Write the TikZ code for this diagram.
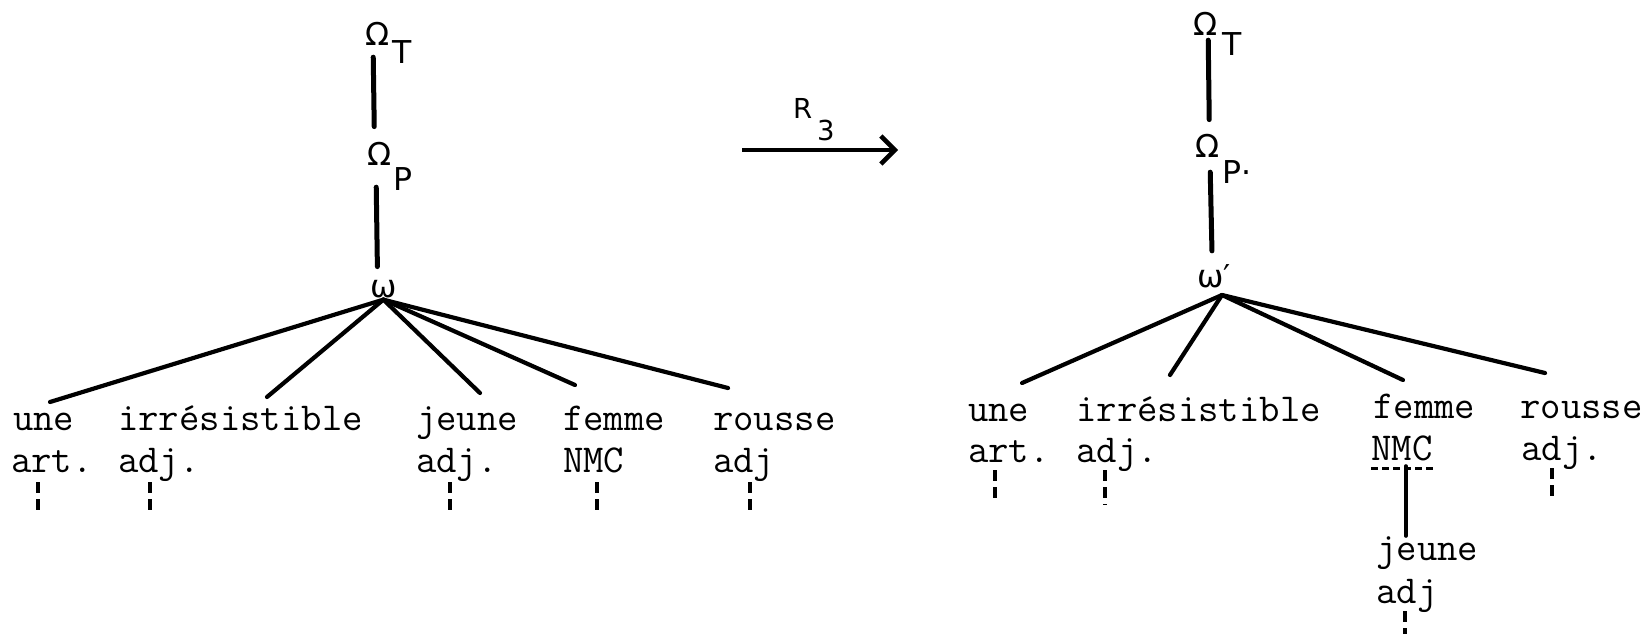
\documentclass[tikz,border=0pt]{standalone}
\usepackage{fontspec}
\newfontfamily\labfont{DejaVu Sans}
\usetikzlibrary{arrows.meta}
\tikzset{
  word/.style={anchor=base west, inner sep=0pt, font=\fontsize{39.6}{40}\selectfont\ttfamily},
  lab/.style={anchor=base west, inner sep=0pt, font=\fontsize{31.5}{32}\selectfont\labfont},
  rulelab/.style={anchor=base west, inner sep=0pt, font=\fontsize{27.5}{28}\selectfont\labfont},
  stem/.style={line width=5pt, line cap=round},
  branch/.style={line width=4.2pt, line cap=round},
  trail/.style={line width=3.6pt, dash pattern=on 11pt off 6pt},
}
\begin{document}
\begin{tikzpicture}[x=1pt,y=-1pt]
  \useasboundingbox (0,0) rectangle (1652,633);
  % left tree
  \node[lab] (lOT) at (365,45) {Ω};
  \node[lab] (lOTs) at (392,63) {T};
  \node[lab] (lOP) at (367,165) {Ω};
  \node[lab] (lOPs) at (393,190) {P};
  \node[lab] (lW) at (370,297) {ω};
  \draw[stem] ([xshift=-4pt,yshift=-12pt]lOT.south) -- ([xshift=-5pt,yshift=15pt]lOP.north);
  \draw[stem] ([xshift=-3pt,yshift=-22pt]lOP.south) -- ([xshift=-6pt,yshift=13pt]lW.north);
  \coordinate (lApex) at ([yshift=-2pt]lW.south);
  \coordinate (lEnd1) at (50,402);
  \coordinate (lEnd2) at (267,397);
  \coordinate (lEnd3) at (480,393);
  \coordinate (lEnd4) at (575,385);
  \coordinate (lEnd5) at (728,388);
  \foreach \e in {1,...,5}
    \draw[branch] (lApex) -- (lEnd\e);
  \node[word] (lUne) at (13,430) {une};
  \node[word] (lIrr) at (118,430) {irrésistible};
  \node[word] (lJeu) at (416,430) {jeune};
  \node[word] (lFem) at (563,430) {femme};
  \node[word] (lRou) at (713,430) {rousse};
  \node[word] (lArt) at (11,472) {art.};
  \node[word] (lAdjA) at (118,472) {adj.};
  \node[word] (lAdjB) at (416,472) {adj.};
  \node[word] (lNmc) at (563,472) {NMC};
  \node[word] (lAdjC) at (713,472) {adj};
  \foreach \w/\dx in {lArt/27,lAdjA/32,lAdjB/34,lNmc/34,lAdjC/37}
    \draw[trail] ([xshift=\dx pt,yshift=-10pt]\w.base west) -- ++(0,31);

  % rule R3
  \node[rulelab] (rule) at (793,118) {R};
  \node[rulelab] (ruleIdx) at (817,140) {3};
  \coordinate (arrL) at (742,150);
  \coordinate (arrR) at (898,150);
  \draw[line width=4.5pt, -{Straight Barb[length=14pt,width=28pt]}] (arrL) -- (arrR);

  % right tree
  \node[lab] (rOT) at (1193,35) {Ω};
  \node[lab] (rOTs) at (1222,55) {T};
  \node[lab] (rOP) at (1195,157) {Ω};
  \node[lab] (rOPs) at (1222,183) {P·};
  \node[lab] (rW) at (1197,287) {ω′};
  \draw[stem] ([xshift=3pt,yshift=-5pt]rOT.south) -- ([xshift=2pt,yshift=14pt]rOP.north);
  \draw[stem] ([xshift=3pt,yshift=-15pt]rOP.south) -- ([xshift=-2pt,yshift=13pt]rW.north);
  \coordinate (rApex) at ([xshift=25pt,yshift=-8pt]rW.base west);
  \coordinate (rEnd1) at (1022,383);
  \coordinate (rEnd2) at (1170,375);
  \coordinate (rEnd3) at (1403,380);
  \coordinate (rEnd4) at (1545,373);
  \foreach \e in {1,...,4}
    \draw[branch] (rApex) -- (rEnd\e);
  \node[word] (rUne) at (968,421) {une};
  \node[word] (rIrr) at (1076,421) {irrésistible};
  \node[word] (rFem) at (1373,418) {femme};
  \node[word] (rRou) at (1520,418) {rousse};
  \node[word] (rArt) at (968,462) {art.};
  \node[word] (rAdjA) at (1076,462) {adj.};
  \node[word] (rNmc) at (1371,460) {NMC};
  \node[word] (rAdjB) at (1521,460) {adj.};
  \node[word] (rJeu) at (1376,560) {jeune};
  \node[word] (rAdjC) at (1376,603) {adj};
  \draw[line width=3pt, dash pattern=on 7pt off 4pt] ([yshift=-8pt]rNmc.base west) -- ([yshift=-8pt]rNmc.base east);
  \draw[stem, line width=3.6pt] ([xshift=4pt,yshift=-6pt]rNmc.base) -- ([xshift=4pt]rNmc.base |- rJeu.north);
  \foreach \w/\dx/\len in {rArt/27/28,rAdjA/29/35,rAdjB/31/31,rAdjC/29/25}
    \draw[trail] ([xshift=\dx pt,yshift=-8pt]\w.base west) -- ++(0,\len);
\end{tikzpicture}
\end{document}
